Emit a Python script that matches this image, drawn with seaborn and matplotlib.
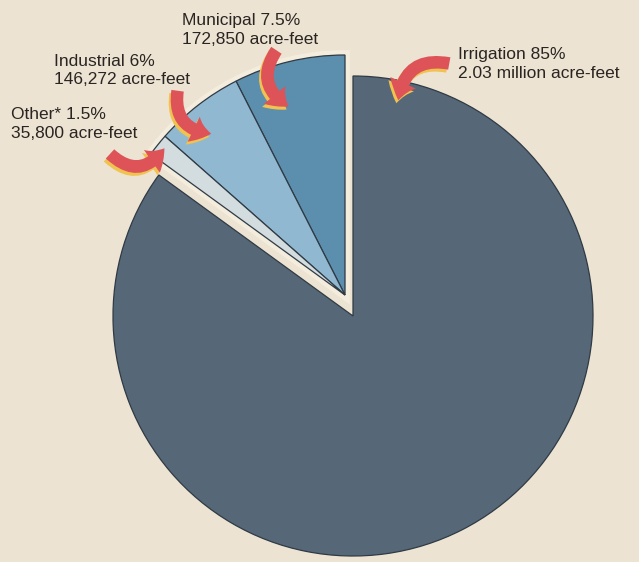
import matplotlib
matplotlib.use("Agg")
import matplotlib.pyplot as plt
import seaborn as sns
from matplotlib.patches import FancyArrowPatch

# ---- data ----
categories = ["Municipal", "Industrial", "Other*", "Irrigation"]
percents = [7.5, 6, 1.5, 85]
pct_labels = ["7.5%", "6%", "1.5%", "85%"]
acre_feet = ["172,850 acre-feet", "146,272 acre-feet", "35,800 acre-feet", "2.03 million acre-feet"]

# ---- style ----
sns.set_theme(style="white")
plt.rcParams["font.family"] = ["Liberation Sans", "DejaVu Sans"]

W, H = 639, 562
BG = "#ece3d2"
colors = ["#5c8eae", "#90b9d1", "#d3dde0", "#566878"]

fig = plt.figure(figsize=(W / 100, H / 100), dpi=100, facecolor=BG)
ax = fig.add_axes([0, 0, 1, 1])
ax.set_facecolor(BG)


def P(x, y):
    """pixel (top-left origin) -> data coords"""
    return (x, H - y)


cx, cy = P(353, 316)
R = 240
shift = (-8, 21)  # small-slice group offset

# cream outline under the small-slice group
small_total = sum(percents[:3])
grp, _ = ax.pie([small_total, percents[3]], startangle=90, counterclock=True,
                center=(cx + shift[0], cy + shift[1]), radius=R,
                colors=[BG, "none"],
                wedgeprops=dict(edgecolor="#f4ecdc", linewidth=7))
grp[1].set_visible(False)

wedges, _ = ax.pie(percents, startangle=90, counterclock=True,
                   center=(cx, cy), radius=R, colors=colors,
                   wedgeprops=dict(edgecolor="#2f3a44", linewidth=0.9))
for w in wedges[:3]:
    w.set_center((cx + shift[0], cy + shift[1]))
    w.set_zorder(3)
wedges[3].set_zorder(1)
grp[0].set_zorder(2)

ax.set_xlim(0, W)
ax.set_ylim(0, H)
ax.set_aspect("equal")
ax.axis("off")

# ---- labels ----
label_pos = {  # left x, baseline of first line (pixels)
    0: (182, 25),
    1: (54, 66),
    2: (11, 119),
    3: (458, 59),
}
for i, (name, pct, af) in enumerate(zip(categories, pct_labels, acre_feet)):
    x, yb = label_pos[i]
    ax.text(*P(x, yb), f"{name} {pct}", fontsize=12.5, color="#2a2522",
            ha="left", va="baseline", zorder=6)
    ax.text(*P(x, yb + 18.5), af, fontsize=12.5, color="#2a2522",
            ha="left", va="baseline", zorder=6)

# ---- curved arrows ----
arrows = [
    ((452, 64), (398, 103), 0.55),
    ((278, 48), (291, 108), 0.55),
    ((178, 88), (214, 134), 0.55),
    ((108, 152), (166, 146), 0.6),
]
style = "simple,head_length=13,head_width=20,tail_width=9"
for (t, h, rad) in arrows:
    sh = FancyArrowPatch(P(t[0] - 2, t[1] + 3), P(h[0] - 2, h[1] + 3),
                         connectionstyle=f"arc3,rad={rad}", arrowstyle=style,
                         color="#f0c24f", lw=0, zorder=7)
    ax.add_patch(sh)
    ar = FancyArrowPatch(P(*t), P(*h), connectionstyle=f"arc3,rad={rad}",
                         arrowstyle=style, color="#dd5358", lw=0, zorder=8)
    ax.add_patch(ar)

fig.savefig("out.png", dpi=100, facecolor=BG)
